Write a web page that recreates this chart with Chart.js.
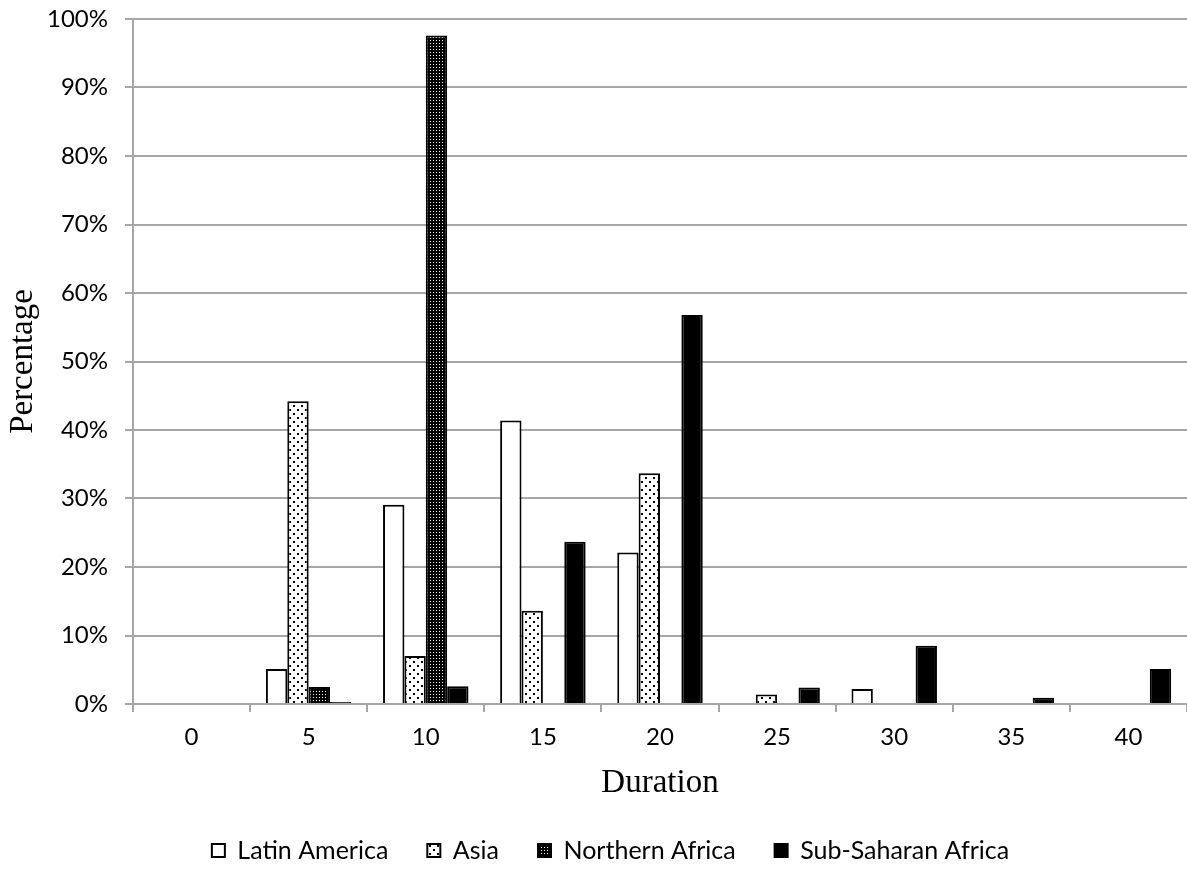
<!DOCTYPE html>
<html>
<head>
<meta charset="utf-8">
<script src="https://cdn.jsdelivr.net/npm/chart.js@4.4.1/dist/chart.umd.min.js"></script>
<style>
    html, body { margin: 0; padding: 0; background: #fff; }
    #chart { display: block; }
</style>
</head>
<body>
<canvas id="chart" width="1187" height="873"></canvas>
<script>
// Values (percent)
const durations = ['0', '5', '10', '15', '20', '25', '30', '35', '40'];
const latinAmerica = [0, 5.1, 29.1, 41.4, 22.1, 0, 2.2, 0, 0];
const asia = [0, 44.2, 7.0, 13.6, 33.7, 1.4, 0, 0, 0];
const northernAfrica = [0, 2.5, 97.6, 0, 0, 0, 0, 0, 0];
const subSaharanAfrica = [0, 0.3, 2.6, 23.7, 56.8, 2.4, 8.5, 0.9, 5.1];

const gridGray = '#a6a6a6';
const tickFont = { family: 'Lato, "Open Sans", sans-serif', size: 24 };
const titleFont = { family: '"Liberation Serif", "DejaVu Serif", serif', size: 33 };
const leftPad = 34; // nudges the bottom legend to the right

// Sparse dot fill (Asia)
function dotPattern() {
    const c = document.createElement('canvas');
    c.width = 8; c.height = 8;
    const g = c.getContext('2d');
    g.fillStyle = '#fff';
    g.fillRect(0, 0, 8, 8);
    g.fillStyle = '#000';
    g.fillRect(1, 1, 2, 2);
    g.fillRect(5, 5, 2, 2);
    return g.createPattern(c, 'repeat');
}

// Dense checker fill (Northern Africa)
function checkPattern() {
    const c = document.createElement('canvas');
    c.width = 3; c.height = 3;
    const g = c.getContext('2d');
    g.fillStyle = '#000';
    g.fillRect(0, 0, 3, 3);
    g.fillStyle = '#fff';
    g.fillRect(1, 1, 1, 1);
    return g.createPattern(c, 'repeat');
}

const ctx = document.getElementById('chart').getContext('2d');

new Chart(ctx, {
    type: 'bar',
    data: {
        labels: durations,
        datasets: [
            { label: 'Latin America', data: latinAmerica, backgroundColor: '#fff', borderColor: '#000', borderWidth: 2 },
            { label: 'Asia', data: asia, backgroundColor: dotPattern(), borderColor: '#000', borderWidth: 2 },
            { label: 'Northern Africa', data: northernAfrica, backgroundColor: checkPattern(), borderColor: '#000', borderWidth: 2 },
            { label: 'Sub-Saharan Africa', data: subSaharanAfrica, backgroundColor: '#000', borderColor: '#000', borderWidth: 2 }
        ]
    },
    options: {
        responsive: false,
        animation: false,
        categoryPercentage: 0.73,
        barPercentage: 1.0,
        layout: { padding: { top: 19, right: 0, bottom: 0, left: leftPad } },
        plugins: {
            tooltip: { enabled: false },
            legend: {
                position: 'bottom',
                labels: {
                    color: '#000',
                    font: { family: 'Lato, "Open Sans", sans-serif', size: 25 },
                    boxWidth: 13,
                    boxHeight: 13,
                    padding: 39
                }
            }
        },
        scales: {
            x: {
                afterFit: (scale) => { scale.height = 95; },
                grid: {
                    offset: true,
                    drawOnChartArea: false,
                    tickLength: 8,
                    color: gridGray,
                    lineWidth: 2
                },
                border: { color: gridGray, width: 2 },
                ticks: { color: '#000', font: tickFont, padding: 11 },
                title: {
                    display: true,
                    text: 'Duration',
                    color: '#000',
                    font: titleFont,
                    padding: { top: 0, bottom: -4 }
                }
            },
            y: {
                min: 0,
                max: 100,
                afterFit: (scale) => { scale.width = 133 - leftPad; },
                grid: { color: gridGray, lineWidth: 2, tickLength: 8 },
                border: { color: gridGray, width: 2 },
                ticks: {
                    stepSize: 10,
                    color: '#000',
                    font: { family: tickFont.family, size: 24, lineHeight: 0.16 },
                    padding: 17,
                    callback: (v) => v + '%'
                },
                title: {
                    display: true,
                    text: 'Percentage',
                    color: '#000',
                    font: titleFont,
                    padding: { top: 4 - leftPad, bottom: 0 }
                }
            }
        }
    }
});
</script>
</body>
</html>
